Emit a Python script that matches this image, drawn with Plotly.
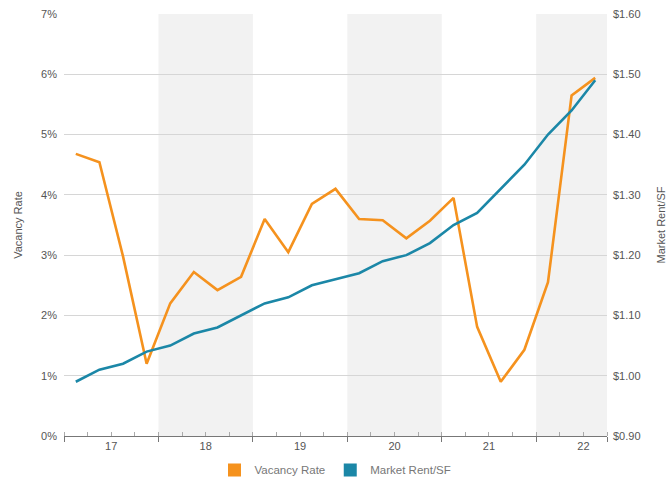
import plotly.graph_objects as go

quarters = ["2017Q1", "2017Q2", "2017Q3", "2017Q4",
            "2018Q1", "2018Q2", "2018Q3", "2018Q4",
            "2019Q1", "2019Q2", "2019Q3", "2019Q4",
            "2020Q1", "2020Q2", "2020Q3", "2020Q4",
            "2021Q1", "2021Q2", "2021Q3", "2021Q4",
            "2022Q1", "2022Q2", "2022Q3"]
vacancy_rate = [4.68, 4.54, 2.98, 1.2,
                2.2, 2.72, 2.42, 2.64,
                3.6, 3.05, 3.85, 4.1,
                3.6, 3.58, 3.28, 3.57,
                3.95, 1.81, 0.9, 1.43,
                2.55, 5.65, 5.94]
market_rent = [0.99, 1.01, 1.02, 1.04,
               1.05, 1.07, 1.08, 1.10,
               1.12, 1.13, 1.15, 1.16,
               1.17, 1.19, 1.20, 1.22,
               1.25, 1.27, 1.31, 1.35,
               1.40, 1.44, 1.49]
year_labels = ["17", "18", "19", "20", "21", "22"]
shaded_years = ["18", "20", "22"]

ORANGE = "#f5921e"
BLUE = "#1b87a7"
FONT = "Liberation Sans, Arial, sans-serif"

n = len(quarters)
xs = list(range(n))
x_min, x_max = -0.5, n - 0.5
year_centers = [i * 4 + 1.5 for i in range(len(year_labels))]
year_bounds = [i * 4 - 0.5 for i in range(len(year_labels))] + [x_max]
quarter_bounds = [i - 0.5 for i in range(n + 1)]

fig = go.Figure()
fig.add_trace(go.Scatter(x=xs, y=vacancy_rate, mode="lines", name="Vacancy Rate",
                         line=dict(color=ORANGE, width=2.6), showlegend=False,
                         hoverinfo="skip"))
fig.add_trace(go.Scatter(x=xs, y=market_rent, mode="lines", name="Market Rent/SF",
                         line=dict(color=BLUE, width=2.6), yaxis="y2", showlegend=False,
                         hoverinfo="skip"))
# legend entries
fig.add_trace(go.Scatter(x=[None], y=[None], mode="markers", name="Vacancy Rate",
                         marker=dict(symbol="square", size=13, color=ORANGE)))
fig.add_trace(go.Scatter(x=[None], y=[None], mode="markers", name="Market Rent/SF",
                         marker=dict(symbol="square", size=13, color=BLUE), yaxis="y2"))
# overlay axis for year boundary ticks
fig.add_trace(go.Scatter(x=[None], y=[None], xaxis="x2", showlegend=False))

shapes = []
for lab in shaded_years:
    i = year_labels.index(lab)
    shapes.append(dict(type="rect", xref="x", yref="paper",
                       x0=i * 4 - 0.5, x1=min(i * 4 + 3.5, x_max), y0=0, y1=1,
                       fillcolor="#f2f2f2", line=dict(width=0), layer="below"))

fig.update_layout(
    width=669, height=484,
    margin=dict(l=63.5, r=61.5, t=14, b=48, autoexpand=False),
    paper_bgcolor="white", plot_bgcolor="white",
    font=dict(family=FONT, size=11, color="#555555"),
    shapes=shapes,
    xaxis=dict(range=[x_min, x_max], tickmode="array", tickvals=year_centers,
               ticktext=year_labels, ticks="", showgrid=False, zeroline=False,
               showline=True, linecolor="#777777", linewidth=1, automargin=False,
               tickfont=dict(size=11, color="#555555"),
               minor=dict(tickmode="array", tickvals=quarter_bounds, ticks="inside",
                          ticklen=4, tickcolor="#aaaaaa", tickwidth=1, showgrid=False)),
    xaxis2=dict(range=[x_min, x_max], overlaying="x", anchor="y", side="bottom",
                tickmode="array", tickvals=year_bounds, ticks="outside", ticklen=5,
                tickcolor="#777777", tickwidth=1, showticklabels=False,
                showgrid=False, zeroline=False, showline=False, automargin=False),
    yaxis=dict(range=[0, 7], dtick=1, ticksuffix="%", showgrid=True,
               gridcolor="#d6d6d6", gridwidth=1, zeroline=False, showline=False,
               ticks="", ticklabelstandoff=6, automargin=False,
               title=dict(text="Vacancy Rate", standoff=16,
                          font=dict(size=11, color="#555555"))),
    yaxis2=dict(range=[0.9, 1.6], dtick=0.1, tickformat="$.2f", overlaying="y",
                side="right", showgrid=False, zeroline=False, showline=False,
                ticks="", ticklabelstandoff=5, automargin=False,
                title=dict(text="Market Rent/SF", standoff=17,
                           font=dict(size=11, color="#555555"))),
    legend=dict(orientation="h", x=0.5, xanchor="center", y=-0.046, yanchor="top",
                font=dict(size=11.5, color="#777777"), itemclick=False,
                traceorder="normal"),
)

fig.write_html("out.html", config={"displayModeBar": False},
               post_script="document.body.style.margin='0';document.body.style.overflow='hidden';")
